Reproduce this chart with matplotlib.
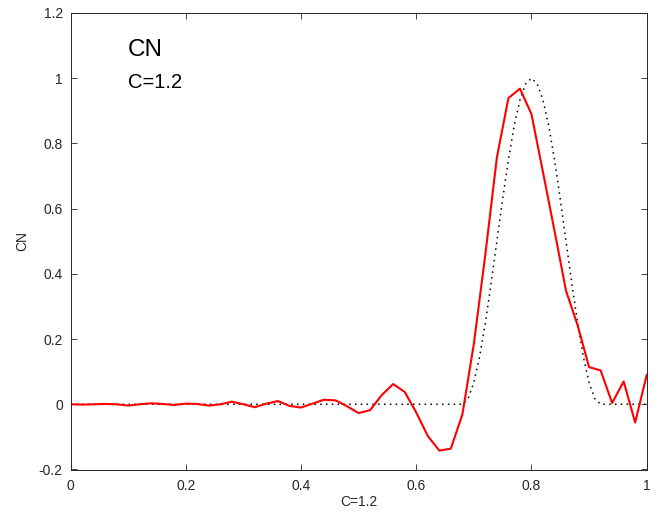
import matplotlib
matplotlib.use('Agg')
import matplotlib.pyplot as plt

plt.rcParams['font.family'] = ['Liberation Sans', 'DejaVu Sans']

#-------------------------------------------------------------------------------
# Data
#-------------------------------------------------------------------------------
# Crank-Nicolson solution on the grid (dx = 0.02)
x_cn = [0.00, 0.02, 0.04, 0.06, 0.08, 0.10, 0.12, 0.14, 0.16, 0.18,
        0.20, 0.22, 0.24, 0.26, 0.28, 0.30, 0.32, 0.34, 0.36, 0.38,
        0.40, 0.42, 0.44, 0.46, 0.48, 0.50, 0.52, 0.54, 0.56, 0.58,
        0.60, 0.62, 0.64, 0.66, 0.68, 0.70, 0.72, 0.74, 0.76, 0.78,
        0.80, 0.82, 0.84, 0.86, 0.88, 0.90, 0.92, 0.94, 0.96, 0.98,
        1.00]
u_cn = [0.000, -0.001, 0.000, 0.001, 0.000, -0.004, 0.000, 0.003, 0.001, -0.002,
        0.002, 0.001, -0.004, 0.000, 0.008, 0.000, -0.009, 0.002, 0.010, -0.005,
        -0.010, 0.002, 0.014, 0.012, -0.006, -0.027, -0.018, 0.028, 0.062, 0.038,
        -0.025, -0.097, -0.142, -0.136, -0.032, 0.185, 0.460, 0.757, 0.939, 0.968,
        0.890, 0.712, 0.532, 0.348, 0.243, 0.114, 0.104, 0.004, 0.070, -0.056,
        0.090]

# exact (advected) profile
x_ex = [0.00, 0.68, 0.69, 0.70, 0.71, 0.72, 0.73, 0.74, 0.75, 0.76, 0.77,
        0.78, 0.79, 0.80, 0.81, 0.82, 0.83, 0.84, 0.85, 0.86, 0.87, 0.88,
        0.89, 0.90, 0.91, 0.92, 1.00]
u_ex = [0.000, 0.000, 0.017, 0.067, 0.146, 0.250, 0.371, 0.500, 0.629, 0.750, 0.854,
        0.933, 0.983, 1.000, 0.983, 0.933, 0.854, 0.750, 0.629, 0.500, 0.371, 0.250,
        0.146, 0.067, 0.017, 0.000, 0.000]

xticks = [0, 0.2, 0.4, 0.6, 0.8, 1]
xtick_labels = ['0', '0.2', '0.4', '0.6', '0.8', '1']
yticks = [-0.2, 0, 0.2, 0.4, 0.6, 0.8, 1, 1.2]
ytick_labels = ['-0.2', '0', '0.2', '0.4', '0.6', '0.8', '1', '1.2']

#-------------------------------------------------------------------------------
# Figure
#-------------------------------------------------------------------------------
fig = plt.figure(figsize=(6.57, 5.16), dpi=100)
ax = fig.add_axes([70.5/657, 1-469.5/516, 576.2/657, 456.5/516])

ax.plot(x_ex, u_ex, color='black', linestyle=(0, (1, 2.8)), linewidth=1.1)
ax.plot(x_cn, u_cn, color='red', linewidth=1.5)

ax.set_xlim(0, 1)
ax.set_ylim(-0.2, 1.2)
ax.set_xticks(xticks)
ax.set_xticklabels(xtick_labels)
ax.set_yticks(yticks)
ax.set_yticklabels(ytick_labels)
ax.tick_params(direction='in', which='both', top=True, right=True,
               length=4, width=0.6, color='#262626', labelsize=10,
               labelcolor='#262626')
ax.tick_params(axis='x', pad=6.5)
ax.tick_params(axis='y', pad=5.5)
for sp in ax.spines.values():
    sp.set_color('#262626')
    sp.set_linewidth(0.7)

ax.set_xlabel('C=1.2', fontsize=10, color='#262626', labelpad=2)
ax.set_ylabel('CN', fontsize=10, color='#262626', labelpad=7)

ax.text(0.099, 1.069, 'CN', fontsize=17.5, va='baseline', ha='left')
ax.text(0.099, 0.970, 'C=1.2', fontsize=14.5, va='baseline', ha='left')

fig.savefig('out.png', dpi=100)
plt.close(fig)
